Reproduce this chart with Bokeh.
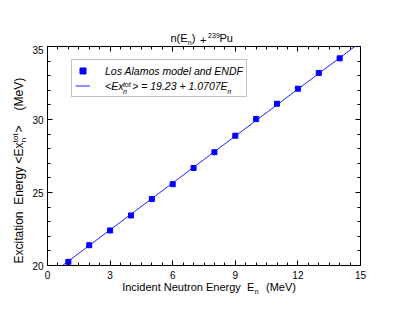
import math
from bokeh.plotting import figure
from bokeh.layouts import row, column
from bokeh.models import (Label, Legend, LegendItem, LinearAxis, SingleIntervalTicker,
                          Range1d, CustomJSTickFormatter)
from bokeh.embed import file_html
from bokeh.resources import INLINE

# ---- data ----
en = [1, 2, 3, 4, 5, 6, 7, 8, 9, 10, 11, 12, 13, 14]
ex = [20.25, 21.39, 22.40, 23.43, 24.56, 25.57, 26.68, 27.76, 28.89, 30.03, 31.08, 32.11, 33.19, 34.19]
fit_a = 19.23
fit_b = 1.0707
fit_x = [0.0, 15.0]
fit_y = [fit_a + fit_b * x for x in fit_x]

x_lo, x_hi, x_step = 0, 15, 3
y_lo, y_hi, y_step = 20, 35, 5

FONT = "Liberation Sans"

# ---- layout geometry (pixels) ----
YL_W = 28          # strip holding the rotated y-axis title
COL_W = 407 - YL_W
T_H = 45           # strip holding the plot title
X_H = 32           # strip holding the x-axis title
M_H = 314 - T_H - X_H

# approximate font descent (fraction of size) to place text baselines
DESC = 0.21


def blank(w, h):
    f = figure(width=w, height=h, output_backend="svg", toolbar_location=None, title=None,
               x_range=Range1d(0, 1), y_range=Range1d(0, 1),
               x_axis_location=None, y_axis_location=None, min_border=0,
               background_fill_color="white", border_fill_color="white")
    f.outline_line_color = None
    f.grid.visible = False
    return f


def lab(fig, text, x, base, size, rotated=False, style="normal"):
    """x along the text start, base = baseline position (screen px from frame origin)."""
    d = DESC * size
    if rotated:
        lx, ly, ang = base + d, x, math.pi / 2
    else:
        lx, ly, ang = x, base - d, 0.0
    fig.add_layout(Label(x=lx, y=ly, x_units="screen", y_units="screen", text=text,
                         text_font=FONT, text_font_size=f"{size}px", text_font_style=style,
                         text_color="black", text_align="left", text_baseline="bottom",
                         angle=ang))


# ---- main plot ----
p = figure(width=COL_W, height=M_H, output_backend="svg", toolbar_location=None, title=None,
           x_range=Range1d(x_lo, x_hi), y_range=Range1d(y_lo, y_hi),
           x_axis_location=None, y_axis_location=None,
           min_border_left=19, min_border_right=47, min_border_top=1, min_border_bottom=17,
           background_fill_color="white", border_fill_color="white")
p.outline_line_color = "black"
p.grid.visible = False

ln = p.line(fit_x, fit_y, line_color="#2020ff", line_width=1)
sc = p.scatter(en, ex, marker="square", size=5, fill_color="#0000ff", line_color="#0000ff")

bottom = LinearAxis(ticker=SingleIntervalTicker(interval=x_step, num_minor_ticks=6))
top = LinearAxis(ticker=SingleIntervalTicker(interval=x_step, num_minor_ticks=6),
                 formatter=CustomJSTickFormatter(code="return ''"))
left = LinearAxis(ticker=SingleIntervalTicker(interval=y_step, num_minor_ticks=5))
right = LinearAxis(ticker=SingleIntervalTicker(interval=y_step, num_minor_ticks=5),
                   formatter=CustomJSTickFormatter(code="return ''"))
p.add_layout(bottom, "below")
p.add_layout(top, "above")
p.add_layout(left, "left")
p.add_layout(right, "right")

for ax in [bottom, top, left, right]:
    ax.axis_line_color = "black"
    ax.axis_line_width = 1
    ax.major_tick_in = 5
    ax.major_tick_out = 0
    ax.minor_tick_in = 3
    ax.minor_tick_out = 0
    ax.major_tick_line_color = "black"
    ax.minor_tick_line_color = "black"
    ax.major_label_text_font = FONT
    ax.major_label_text_font_size = "10px"
    ax.major_label_text_color = "black"
bottom.major_label_standoff = 5
left.major_label_standoff = 4
for ax in [top, right]:
    ax.major_label_standoff = 0
    ax.major_label_text_font_size = "0px"

# ---- legend (transparent fill so the script labels show) ----
legend = Legend(items=[
    LegendItem(label="Los Alamos model and ENDF", renderers=[sc]),
    LegendItem(label="<Ex\u00a0\u00a0\u00a0> = 19.23 + 1.0707E", renderers=[ln]),
], location=(24, 168))
legend.label_text_font = FONT
legend.label_text_font_style = "italic"
legend.label_text_font_size = "10.5px"
legend.label_text_color = "black"
legend.label_standoff = 15
legend.glyph_width = 15
legend.glyph_height = 15
legend.label_height = 15
legend.padding = 3
legend.spacing = 0
legend.margin = 0
legend.border_line_color = "#888888"
legend.border_line_width = 1
legend.background_fill_alpha = 0
p.add_layout(legend)

# legend sub/superscripts (frame coordinates)
lab(p, "tot", 75.4, 178.5, 7, style="italic")
lab(p, "n", 75.4, 171.5, 7, style="italic")
lab(p, "n", 179.7, 171.5, 7, style="italic")

# ---- title strip (frame starts at x = 47 of the page) ----
tfig = blank(COL_W, T_H)
lab(tfig, "n(E", 123, 4, 11)
lab(tfig, "n", 140.3, 1, 7)
lab(tfig, ")", 144.2, 4, 11)
lab(tfig, "+", 152.5, 4, 11)
lab(tfig, "239", 160.6, 8.5, 7)
lab(tfig, "Pu", 172, 4, 11)

# ---- x-axis title strip ----
xfig = blank(COL_W, X_H)
lab(xfig, "Incident Neutron Energy\u00a0\u00a0E", 74.7, 24, 11)
lab(xfig, "n", 207.3, 20.5, 7)
lab(xfig, "(MeV)", 218.5, 24, 11)

# ---- y-axis title strip (rotated, reads upwards) ----
yfig = blank(YL_W, 314)
lab(yfig, "Excitation\u00a0\u00a0Energy\u00a0<Ex", 51, 23, 12, rotated=True)
lab(yfig, "tot", 172.3, 18.3, 8, rotated=True)
lab(yfig, "n", 172.3, 26.3, 8, rotated=True)
lab(yfig, ">", 182, 23, 12, rotated=True)
lab(yfig, "(MeV)", 204, 23, 12, rotated=True)

layout = row(yfig, column(tfig, p, xfig, spacing=0), spacing=0)

open("out.html", "w").write(file_html(layout, INLINE))
